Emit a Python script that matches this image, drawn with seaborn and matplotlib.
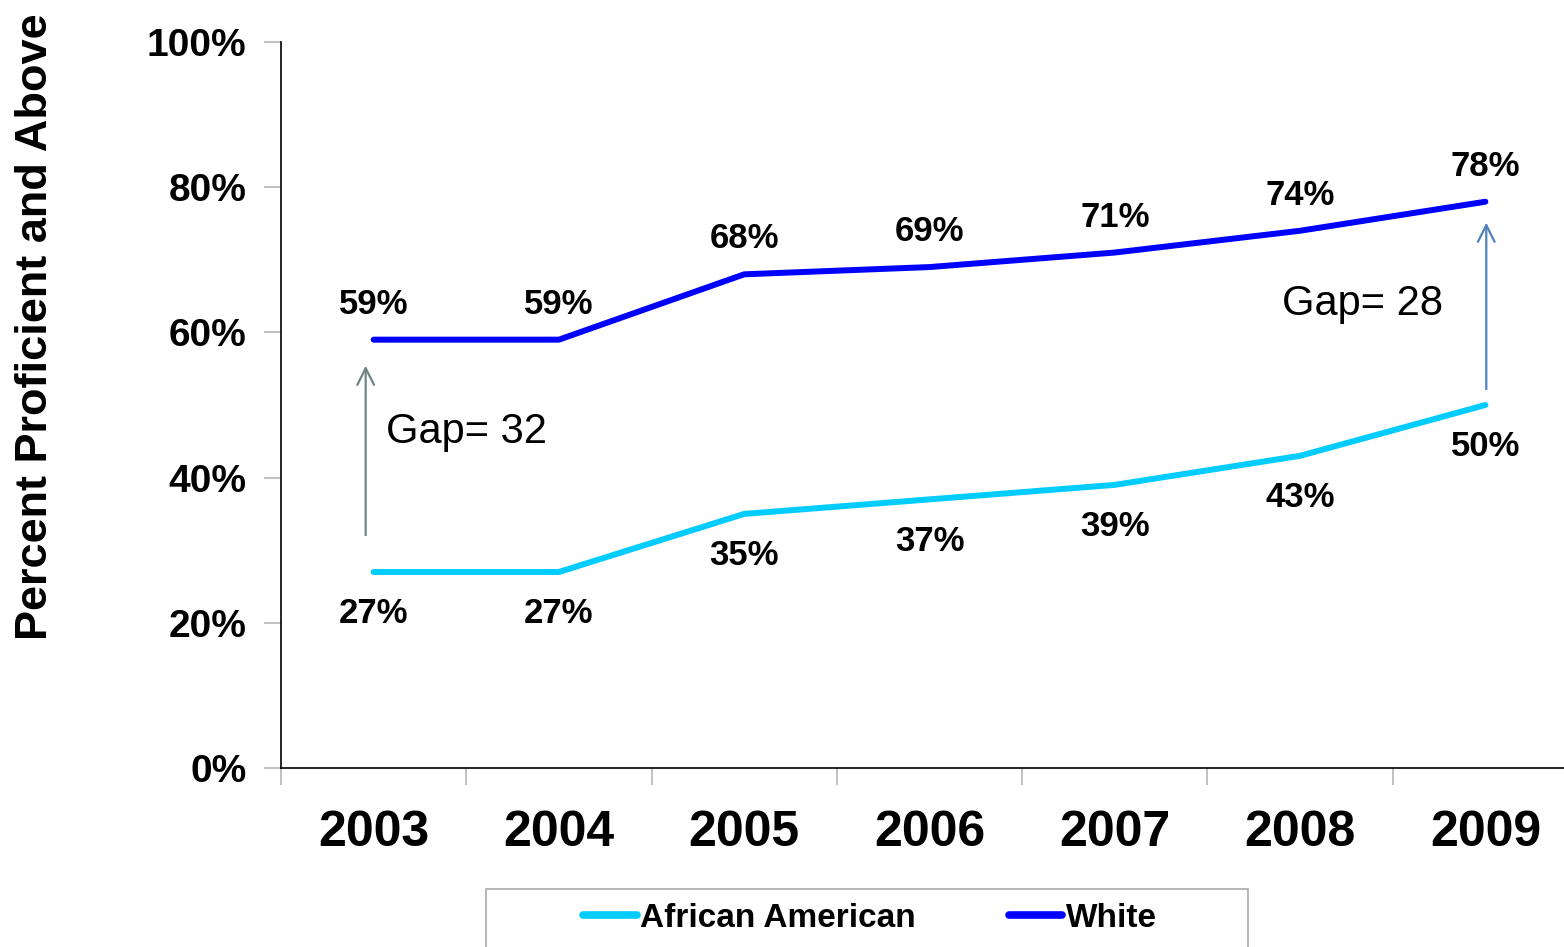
import matplotlib
matplotlib.use("Agg")
import matplotlib.pyplot as plt
import seaborn as sns
import pandas as pd
from matplotlib.patches import Rectangle
from matplotlib.ticker import FixedLocator, FuncFormatter

years = ["2003", "2004", "2005", "2006", "2007", "2008", "2009"]
african_american = [27, 27, 35, 37, 39, 43, 50]
white = [59, 59, 68, 69, 71, 74, 78]
series_names = ["African American", "White"]
colors = {"African American": "#00CCFF", "White": "#0000FF"}
y_ticks = [0, 20, 40, 60, 80, 100]

sns.set_style("white")
plt.rcParams["font.family"] = ["Liberation Sans", "DejaVu Sans"]
plt.rcParams["text.color"] = "black"
plt.rcParams["xtick.labelcolor"] = "black"
plt.rcParams["ytick.labelcolor"] = "black"

df = pd.DataFrame({
    "idx": list(range(len(years))) * 2,
    "value": african_american + white,
    "group": [series_names[0]] * len(years) + [series_names[1]] * len(years),
})

fig = plt.figure(figsize=(15.64, 9.47), dpi=100)
ax = fig.add_axes([281 / 1564, (947 - 768) / 947, 1297 / 1564, 726 / 947])

sns.lineplot(data=df, x="idx", y="value", hue="group", hue_order=series_names,
             palette=colors, linewidth=4.3, ax=ax, solid_capstyle="round",
             legend=True)

ax.set_xlim(-0.5, 6.5)
ax.set_ylim(0, 100)
ax.set_xlabel("")
ax.set_ylabel("")

ax.set_xticks(range(len(years)))
ax.set_xticklabels(years, fontsize=36, fontweight="bold", color="black")
ax.xaxis.set_minor_locator(FixedLocator([i - 0.5 for i in range(len(years) + 1)]))
ax.tick_params(axis="x", which="major", bottom=True, length=0, pad=30)
ax.tick_params(axis="x", which="minor", bottom=True, length=12, color="#BBBBBB",
               width=1.3, direction="out")

ax.set_yticks(y_ticks)
ax.yaxis.set_major_formatter(FuncFormatter(lambda v, p: f"{v:.0f}%"))
ax.tick_params(axis="y", which="major", left=True, length=12, color="#BBBBBB", width=1.3,
               direction="out", pad=13, labelsize=28, labelcolor="black")
for lab in ax.get_yticklabels():
    lab.set_fontweight("bold")

for side in ["top", "right"]:
    ax.spines[side].set_visible(False)
for side in ["left", "bottom"]:
    ax.spines[side].set_color("black")
    ax.spines[side].set_linewidth(1.2)

# data labels
for i, v in enumerate(white):
    ax.annotate(f"{v}%", (i, v), xytext=(0, 25.5), textcoords="offset points",
                ha="center", va="center", fontsize=25, fontweight="bold", color="black")
for i, v in enumerate(african_american):
    ax.annotate(f"{v}%", (i, v), xytext=(0, -30), textcoords="offset points",
                ha="center", va="center", fontsize=25, fontweight="bold", color="black")

# gap arrows
ax.annotate("", xy=(-0.043, 55.8), xytext=(-0.043, 31.7),
            arrowprops=dict(arrowstyle="->", color="#6E8585", lw=1.6, mutation_scale=30))
ax.annotate("", xy=(6.005, 75.5), xytext=(6.005, 51.8),
            arrowprops=dict(arrowstyle="->", color="#4F81BD", lw=1.6, mutation_scale=30))
ax.text(0.065, 46.3, "Gap= 32", fontsize=30, ha="left", va="center", color="black")
ax.text(4.9, 63.9, "Gap= 28", fontsize=30, ha="left", va="center", color="black")

# y label
fig.text(36 / 1564, 1 - 327 / 947, "Percent Proficient and Above", rotation=90,
         fontsize=32.5, fontweight="bold", ha="center", va="center", color="black")

# legend
handles, labels = ax.get_legend_handles_labels()
if ax.get_legend() is not None:
    ax.get_legend().remove()
for h in handles:
    h.set_linewidth(5.5)
    h.set_solid_capstyle("round")
leg = fig.legend(handles, labels, loc="center", bbox_to_anchor=(870 / 1564, 1 - 918 / 947),
                 ncol=2, frameon=False, handlelength=1.6, handletextpad=0.1,
                 columnspacing=2.8, labelcolor="black",
                 prop={"family": ["Liberation Sans Narrow", "Liberation Sans"],
                       "weight": "bold", "size": 24})
fig.patches.append(Rectangle((486 / 1564, -0.02), 762 / 1564, (947 - 889) / 947 + 0.02,
                             transform=fig.transFigure, fill=False,
                             edgecolor="#AAAAAA", linewidth=1.2))

fig.savefig("out.png", dpi=100)
